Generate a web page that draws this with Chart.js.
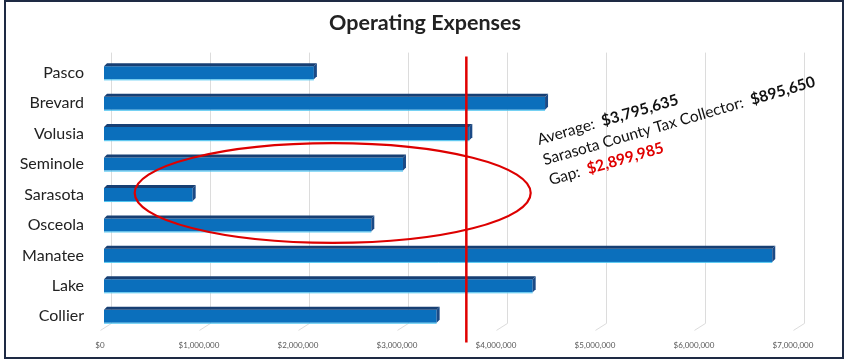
<!DOCTYPE html>
<html>
<head>
<meta charset="utf-8">
<script src="https://cdn.jsdelivr.net/npm/chart.js@4/dist/chart.umd.min.js"></script>
<style>
  html, body { margin: 0; padding: 0; background: #fff; }
  canvas { display: block; }
</style>
</head>
<body>
<canvas id="expenseChart" width="850" height="361"></canvas>
<script>
// counties, top to bottom
const counties = ['Pasco', 'Brevard', 'Volusia', 'Seminole', 'Sarasota', 'Osceola', 'Manatee', 'Lake', 'Collier'];
// operating expenses
const expenses = [2120000, 4455000, 3690000, 3020000, 895650, 2700000, 6750000, 4330000, 3360000];
const tickValues = [0, 1000000, 2000000, 3000000, 4000000, 5000000, 6000000, 7000000];
// where the red average line was drawn on the chart
const avgLineValue = 3660000;
// circled area: centre and half-width in dollars, around Sarasota
const circleCenter = 2310000;
const circleHalfWidth = 2000000;
const circleCounty = 'Sarasota';
// annotation lines: [normal part, bold part, bold colour]
const noteLines = [
  ['Average:  ', '$3,795,635', '#111'],
  ['Sarasota County Tax Collector:  ', '$895,650', '#111'],
  ['Gap:  ', '$2,899,985', '#e00000']
];

const FONT = 'Lato, "Open Sans", sans-serif';
const DEPTH = 3; // 3D bar depth

function money(v) {
  return '$' + v.toLocaleString('en-US');
}

const frame = {
  id: 'frame',
  beforeDraw(chart) {
    const ctx = chart.ctx;
    ctx.save();
    ctx.fillStyle = '#fff';
    ctx.fillRect(0, 0, chart.width, chart.height);
    ctx.restore();
  },
  afterDraw(chart) {
    const ctx = chart.ctx;
    ctx.save();
    ctx.strokeStyle = '#1e2a44';
    ctx.lineWidth = 2;
    ctx.strokeRect(5, 1, 838, 357);
    ctx.restore();
  }
};

// back-wall gridlines and floor lines, shifted like Excel's 3D chart
const wallGrid = {
  id: 'wallGrid',
  beforeDatasetsDraw(chart) {
    const { ctx, chartArea, scales: { x } } = chart;
    ctx.save();
    ctx.strokeStyle = '#dcdcdc';
    ctx.lineWidth = 1;
    x.ticks.forEach(t => {
      const px = Math.round(x.getPixelForValue(t.value)) + 7.5;
      ctx.beginPath();
      ctx.moveTo(px, chartArea.top - 5);
      ctx.lineTo(px, chartArea.bottom - 8);
      ctx.lineTo(px - 11, chartArea.bottom - 1);
      ctx.stroke();
    });
    ctx.restore();
  }
};

// top and end faces for each bar
const bars3d = {
  id: 'bars3d',
  afterDatasetsDraw(chart) {
    const ctx = chart.ctx;
    const meta = chart.getDatasetMeta(0);
    ctx.save();
    meta.data.forEach(bar => {
      const x0 = bar.base;
      const x1 = bar.x;
      const top = bar.y - bar.height / 2;
      const bottom = bar.y + bar.height / 2;
      // top face
      ctx.fillStyle = '#173f73';
      ctx.beginPath();
      ctx.moveTo(x0, top);
      ctx.lineTo(x0 + DEPTH, top - DEPTH);
      ctx.lineTo(x1 + DEPTH, top - DEPTH);
      ctx.lineTo(x1, top);
      ctx.closePath();
      ctx.fill();
      // end face
      ctx.fillStyle = '#1b4a86';
      ctx.beginPath();
      ctx.moveTo(x1, top);
      ctx.lineTo(x1 + DEPTH, top - DEPTH);
      ctx.lineTo(x1 + DEPTH, bottom - DEPTH);
      ctx.lineTo(x1, bottom);
      ctx.closePath();
      ctx.fill();
      // light lower edge
      ctx.strokeStyle = '#4cc4f0';
      ctx.lineWidth = 1;
      ctx.beginPath();
      ctx.moveTo(x0, bottom + 0.5);
      ctx.lineTo(x1, bottom + 0.5);
      ctx.stroke();
    });
    ctx.restore();
  }
};

const annotations = {
  id: 'annotations',
  afterDatasetsDraw(chart) {
    const { ctx, chartArea, scales: { x, y } } = chart;
    ctx.save();

    // red ellipse around the Sarasota area
    const band = y.getPixelForValue(1) - y.getPixelForValue(0);
    const cx = x.getPixelForValue(circleCenter);
    const cy = y.getPixelForValue(counties.indexOf(circleCounty)) - 1.5;
    const rx = x.getPixelForValue(circleCenter + circleHalfWidth) - cx;
    ctx.strokeStyle = '#dd0000';
    ctx.lineWidth = 2.2;
    ctx.beginPath();
    ctx.ellipse(cx, cy, rx, band * 1.64, 0, 0, Math.PI * 2);
    ctx.stroke();

    // average line
    const ax = x.getPixelForValue(avgLineValue);
    ctx.strokeStyle = '#e00000';
    ctx.lineWidth = 2.5;
    ctx.beginPath();
    ctx.moveTo(ax, chartArea.top - 1);
    ctx.lineTo(ax, chartArea.bottom + 11);
    ctx.stroke();

    // rotated text box
    ctx.translate(539, 145);
    ctx.rotate(-16.2 * Math.PI / 180);
    ctx.textBaseline = 'alphabetic';
    ctx.textAlign = 'left';
    noteLines.forEach((line, i) => {
      const yy = i * 21;
      ctx.font = '15.5px ' + FONT;
      ctx.fillStyle = '#111';
      ctx.fillText(line[0], 0, yy);
      const w = ctx.measureText(line[0]).width;
      ctx.font = 'bold 15.5px ' + FONT;
      ctx.fillStyle = line[2];
      ctx.fillText(line[1], w, yy);
    });
    ctx.restore();
  }
};

new Chart(document.getElementById('expenseChart'), {
  type: 'bar',
  data: {
    labels: counties,
    datasets: [{
      data: expenses,
      backgroundColor: '#0b6fbc',
      borderWidth: 0,
      categoryPercentage: 1,
      barPercentage: 0.43
    }]
  },
  options: {
    indexAxis: 'y',
    responsive: false,
    animation: false,
    layout: { padding: 0 },
    plugins: {
      legend: { display: false },
      tooltip: { enabled: false },
      title: {
        display: true,
        text: 'Operating Expenses',
        color: '#222',
        font: { family: FONT, size: 21.5, weight: 'bold' },
        padding: { top: 10.5, bottom: 21.3 }
      }
    },
    scales: {
      x: {
        min: 0,
        max: 7000000,
        afterBuildTicks(scale) {
          scale.ticks = tickValues.map(v => ({ value: v }));
        },
        afterFit(scale) { scale.height = 29.25; },
        grid: { display: false, drawTicks: false },
        border: { display: false },
        ticks: {
          callback: v => money(v),
          color: '#595959',
          font: { family: FONT, size: 8 },
          padding: 9,
          labelOffset: -4,
          maxRotation: 0
        }
      },
      y: {
        afterFit(scale) { scale.width = 104; },
        grid: { display: false, drawTicks: false },
        border: { display: false },
        ticks: {
          color: '#222',
          font: { family: FONT, size: 16 },
          padding: 20
        }
      },
      // empty right margin so the title stays centred on the whole picture
      margin: {
        type: 'linear',
        position: 'right',
        axis: 'y',
        afterFit(scale) { scale.width = 53; },
        grid: { display: false, drawTicks: false },
        border: { display: false },
        ticks: { display: false }
      }
    }
  },
  plugins: [frame, wallGrid, bars3d, annotations]
});
</script>
</body>
</html>
